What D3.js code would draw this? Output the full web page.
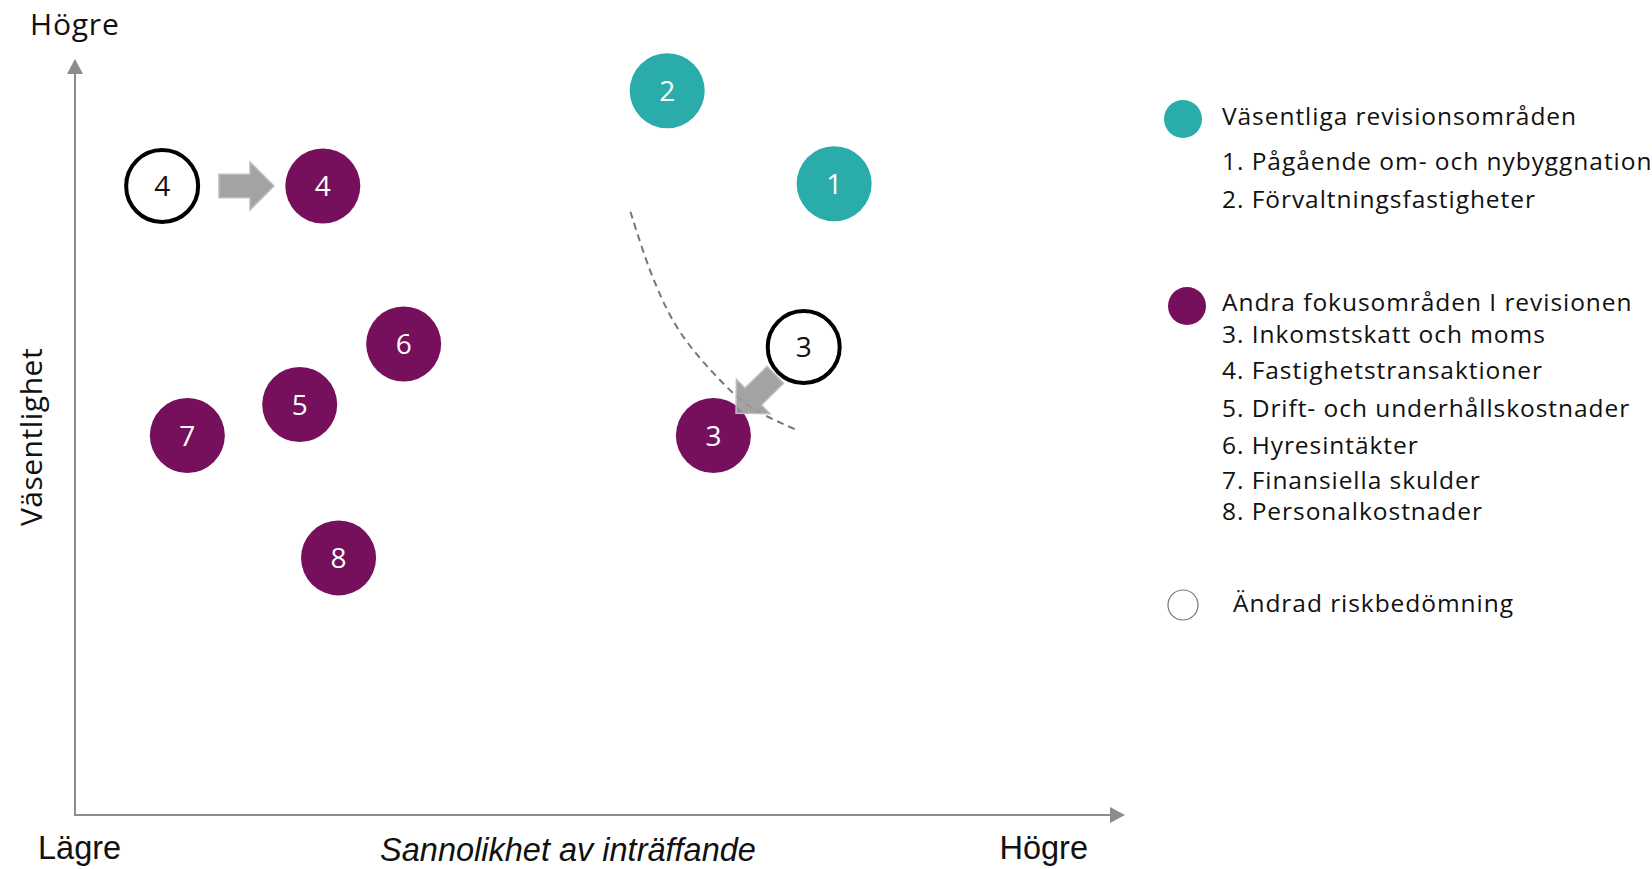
<!DOCTYPE html>
<html>
<head>
<meta charset="utf-8">
<script src="https://cdnjs.cloudflare.com/ajax/libs/d3/7.8.5/d3.min.js"></script>
<style>
  html, body { margin: 0; padding: 0; background: #fff; }
  svg { display: block; }
</style>
</head>
<body>
<svg id="chart" width="1652" height="869"></svg>
<script>
//bubble data, values on a 0-100 scale
var ids = [1, 2, 3, 4, 5, 6, 7, 8];
var groups = ['key', 'key', 'other', 'other', 'other', 'other', 'other', 'other'];
var likelihood = [72.3, 56.4, 60.8, 23.6, 21.4, 31.3, 10.7, 25.1];
var significance = [83.5, 95.8, 50.2, 83.2, 54.3, 62.3, 50.2, 34.0];

//previous assessment for the items that moved
var prevIds = [3, 4];
var prevLikelihood = [69.4, 8.3];
var prevSignificance = [61.9, 83.2];

//dashed threshold curve
var curveLikelihood = [52.9, 55.0, 57.3, 60.5, 64.3, 68.8];
var curveSignificance = [79.8, 71.2, 64.6, 58.9, 54.0, 50.9];

//labels
var axisLow = 'Lägre';
var axisHigh = 'Högre';
var xTitle = 'Sannolikhet av inträffande';
var yTitle = 'Väsentlighet';
var groupTitles = ['Väsentliga revisionsområden', 'Andra fokusområden I revisionen'];
var itemLabels = [
  'Pågående om- och nybyggnation',
  'Förvaltningsfastigheter',
  'Inkomstskatt och moms',
  'Fastighetstransaktioner',
  'Drift- och underhållskostnader',
  'Hyresintäkter',
  'Finansiella skulder',
  'Personalkostnader'
];
var changedLabel = 'Ändrad riskbedömning';

var colors = { key: '#2aacaa', other: '#76105c' };
var font = '"Open Sans", "Noto Sans", sans-serif';
var radius = 37.5;

var svg = d3.select('#chart');

var x = d3.scaleLinear().domain([0, 100]).range([75, 1125]);
var y = d3.scaleLinear().domain([0, 100]).range([815, 59]);

//axes with arrow heads
var axisColor = '#8c8c8c';
svg.append('line')
  .attr('x1', x(0)).attr('y1', y(0))
  .attr('x2', x(0)).attr('y2', y(100) + 14)
  .attr('stroke', axisColor).attr('stroke-width', 2);
svg.append('path')
  .attr('d', 'M' + x(0) + ',' + y(100) + 'l-8,15h16z')
  .attr('fill', axisColor);
svg.append('line')
  .attr('x1', x(0) - 1).attr('y1', y(0))
  .attr('x2', x(100) - 14).attr('y2', y(0))
  .attr('stroke', axisColor).attr('stroke-width', 2);
svg.append('path')
  .attr('d', 'M' + x(100) + ',' + y(0) + 'l-15,-8v16z')
  .attr('fill', axisColor);

//axis texts
svg.append('text')
  .attr('x', 30).attr('y', 35)
  .style('font-family', font).style('font-size', '30px').style('letter-spacing', '0.8px')
  .attr('fill', '#111')
  .text(axisHigh);
svg.append('text')
  .attr('transform', 'translate(42,437) rotate(-90)')
  .attr('text-anchor', 'middle')
  .style('font-family', font).style('font-size', '30px').style('letter-spacing', '0.5px')
  .attr('fill', '#111')
  .text(yTitle);

var bottom = svg.append('g')
  .style('font-family', '"Liberation Sans", Arial, sans-serif')
  .style('font-size', '32.5px')
  .attr('fill', '#111');
bottom.append('text').attr('x', 38).attr('y', 859).text(axisLow);
bottom.append('text').attr('x', 568).attr('y', 861).attr('text-anchor', 'middle')
  .style('font-style', 'italic').text(xTitle);
bottom.append('text').attr('x', 1088).attr('y', 859).attr('text-anchor', 'end').text(axisHigh);

//bubbles
var bubbles = ids.map(function (id, i) {
  return { id: id, group: groups[i], lx: likelihood[i], sy: significance[i] };
});
var previous = prevIds.map(function (id, i) {
  return { id: id, lx: prevLikelihood[i], sy: prevSignificance[i] };
});

var bubble = svg.append('g').selectAll('g')
  .data(bubbles)
  .enter()
  .append('g')
  .attr('transform', function (d) { return 'translate(' + x(d.lx) + ',' + y(d.sy) + ')'; });
bubble.append('circle')
  .attr('r', radius)
  .style('fill', function (d) { return colors[d.group]; });
bubble.append('text')
  .attr('dy', '0.36em')
  .attr('text-anchor', 'middle')
  .style('font-family', font).style('font-size', '28px')
  .attr('fill', '#fff')
  .text(function (d) { return d.id; });

var old = svg.append('g').selectAll('g')
  .data(previous)
  .enter()
  .append('g')
  .attr('transform', function (d) { return 'translate(' + x(d.lx) + ',' + y(d.sy) + ')'; });
old.append('circle')
  .attr('r', 36)
  .attr('fill', '#fff')
  .attr('stroke', '#000')
  .attr('stroke-width', 4);
old.append('text')
  .attr('dy', '0.36em')
  .attr('text-anchor', 'middle')
  .style('font-family', font).style('font-size', '28px')
  .attr('fill', '#111')
  .text(function (d) { return d.id; });

//dashed curve
var curvePoints = curveLikelihood.map(function (v, i) { return [v, curveSignificance[i]]; });
svg.append('path')
  .datum(curvePoints)
  .attr('d', d3.line()
    .x(function (d) { return x(d[0]); })
    .y(function (d) { return y(d[1]); })
    .curve(d3.curveCatmullRom))
  .attr('fill', 'none')
  .attr('stroke', '#777')
  .attr('stroke-width', 2)
  .attr('stroke-dasharray', '7,5');

//block arrows from old to new position
var arrowShape = 'M-27.5,-11.75H3.5V-24L27.5,0L3.5,24V11.75H-27.5Z';
svg.append('g').selectAll('path')
  .data(previous)
  .enter()
  .append('path')
  .attr('d', arrowShape)
  .attr('transform', function (d) {
    var now = bubbles[ids.indexOf(d.id)];
    var x0 = x(d.lx), y0 = y(d.sy), x1 = x(now.lx), y1 = y(now.sy);
    var len = Math.sqrt((x1 - x0) * (x1 - x0) + (y1 - y0) * (y1 - y0));
    var ux = (x1 - x0) / len, uy = (y1 - y0) / len;
    var cx = (x0 + x1) / 2 + 4 * ux, cy = (y0 + y1) / 2 + 4 * uy;
    var angle = Math.atan2(uy, ux) * 180 / Math.PI;
    return 'translate(' + cx + ',' + cy + ') rotate(' + angle + ')';
  })
  .attr('fill', '#999')
  .attr('fill-opacity', 0.9)
  .attr('stroke', '#bdbdbd')
  .attr('stroke-width', 1.5);

//legend
var legend = svg.append('g')
  .style('font-family', font)
  .style('font-size', '24.5px')
  .style('letter-spacing', '0.95px')
  .attr('fill', '#111');

legend.append('circle').attr('cx', 1183).attr('cy', 119).attr('r', 19).style('fill', colors.key);
legend.append('text').attr('x', 1222).attr('y', 125).text(groupTitles[0]);

legend.append('circle').attr('cx', 1187).attr('cy', 306).attr('r', 19).style('fill', colors.other);
legend.append('text').attr('x', 1222).attr('y', 311).text(groupTitles[1]);

var itemBaselines = [170, 208, 343, 379, 417, 454, 489, 520];
legend.selectAll('text.item')
  .data(itemLabels)
  .enter()
  .append('text')
  .attr('class', 'item')
  .attr('x', 1222)
  .attr('y', function (d, i) { return itemBaselines[i]; })
  .text(function (d, i) { return ids[i] + '. ' + d; });

legend.append('circle').attr('cx', 1183).attr('cy', 605).attr('r', 15)
  .attr('fill', '#fff').attr('stroke', '#777').attr('stroke-width', 1.2);
legend.append('text').attr('x', 1233).attr('y', 612).text(changedLabel);
</script>
</body>
</html>
